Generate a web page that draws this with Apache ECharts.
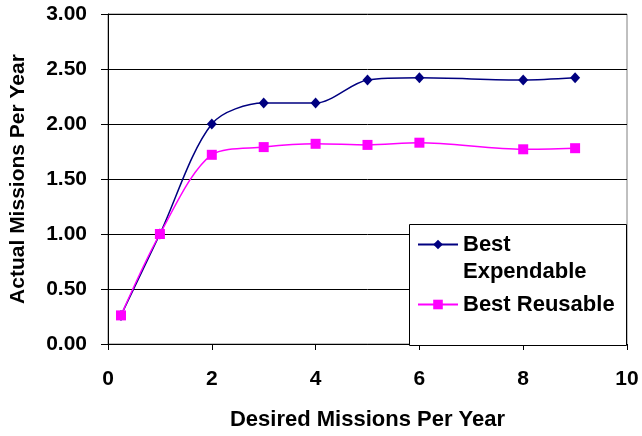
<!DOCTYPE html>
<html>
<head>
<meta charset="utf-8">
<script src="https://cdn.jsdelivr.net/npm/echarts@6/dist/echarts.min.js"></script>
<style>
  html, body { margin: 0; padding: 0; background: #fff; }
  #chart { width: 642px; height: 436px; }
</style>
</head>
<body>
<div id="chart"></div>
<script>
// Desired missions per year (x) and the achieved rate for each architecture
const desired = [0.25, 1, 2, 3, 4, 5, 6, 8, 9];
const bestExpendable = [0.26, 1.00, 2.00, 2.19, 2.19, 2.40, 2.42, 2.40, 2.42];
const bestReusable = [0.26, 1.00, 1.72, 1.79, 1.82, 1.81, 1.83, 1.77, 1.78];
const seriesNames = ['Best Expendable', 'Best Reusable'];
const legendLabels = ['\nBest\nExpendable', 'Best Reusable'];
const xTitle = 'Desired Missions Per Year';
const yTitle = 'Actual Missions Per Year';

const FONT = '"Liberation Sans", Arial, sans-serif';
const pairs = (ys) => desired.map((x, i) => [x, ys[i]]);

const chart = echarts.init(document.getElementById('chart'), null, { renderer: 'canvas' });

const legendText = {
  fontFamily: FONT, fontWeight: 'bold', fontSize: 22, color: '#000', lineHeight: 27
};
const tickText = { fontFamily: FONT, fontWeight: 'bold', fontSize: 21, color: '#000' };
const titleText = { fontFamily: FONT, fontWeight: 'bold', fontSize: 22, color: '#000' };

chart.setOption({
  animation: false,
  backgroundColor: '#fff',
  grid: {
    left: 108, right: 15, top: 14, bottom: 91,
    show: true, borderColor: '#808080', borderWidth: 1, backgroundColor: 'transparent'
  },
  xAxis: {
    type: 'value', min: 0, max: 10, interval: 2,
    name: xTitle, nameLocation: 'middle', nameGap: 65,
    nameTextStyle: titleText,
    axisLine: { show: true, onZero: false, lineStyle: { color: '#000', width: 1 } },
    axisTick: { show: true, length: 6, lineStyle: { color: '#000' } },
    axisLabel: Object.assign({ margin: 25 }, tickText),
    splitLine: { show: false }
  },
  yAxis: [
    {
      type: 'value', min: 0, max: 3, interval: 0.5,
      name: yTitle, nameLocation: 'middle', nameGap: 79, nameRotate: 90,
      nameTextStyle: Object.assign({}, titleText, { fontSize: 21 }),
      axisLine: { show: true, onZero: false, lineStyle: { color: '#000', width: 1 } },
      axisTick: { show: true, length: 7, lineStyle: { color: '#000' } },
      axisLabel: Object.assign({ margin: 21, formatter: (v) => v.toFixed(2) }, tickText),
      splitLine: { show: true, lineStyle: { color: '#000', width: 1 } }
    },
    {
      // inner half of the cross ticks on the value axis
      type: 'value', min: 0, max: 3, interval: 0.5, position: 'left', offset: 0,
      axisLine: { show: false },
      axisTick: { show: true, inside: true, length: 4, lineStyle: { color: '#000' } },
      axisLabel: { show: false },
      splitLine: { show: false }
    }
  ],
  graphic: [{
    type: 'rect', z: 3,
    shape: { x: 409.5, y: 224.5, width: 217, height: 121 },
    style: { fill: '#fff', stroke: '#000', lineWidth: 1 }
  }],
  legend: [
    {
      data: [seriesNames[0]], formatter: () => legendLabels[0],
      left: 417, top: 204, padding: 0, itemWidth: 40, itemHeight: 12, itemGap: 0,
      selectedMode: false, z: 6, textStyle: legendText
    },
    {
      data: [seriesNames[1]], formatter: () => legendLabels[1],
      left: 417, top: 291, padding: 0, itemWidth: 40, itemHeight: 12, itemGap: 0,
      selectedMode: false, z: 6, textStyle: legendText
    }
  ],
  series: [
    {
      name: seriesNames[0], type: 'line', data: pairs(bestExpendable),
      smooth: 0.3, symbol: 'diamond', symbolSize: [10, 11],
      lineStyle: { color: '#000080', width: 1.5 },
      itemStyle: { color: '#000080' }
    },
    {
      name: seriesNames[1], type: 'line', data: pairs(bestReusable),
      smooth: 0.3, symbol: 'rect', symbolSize: 10,
      lineStyle: { color: '#ff00ff', width: 1.5 },
      itemStyle: { color: '#ff00ff' }
    }
  ]
});
</script>
</body>
</html>
